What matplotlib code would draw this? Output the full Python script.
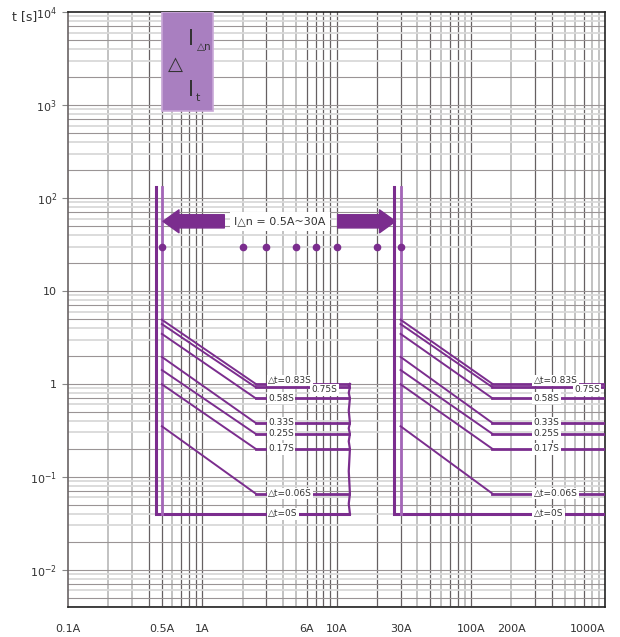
import numpy as np
import matplotlib.pyplot as plt
from matplotlib.patches import Rectangle

plt.rcParams['font.family'] = ['Liberation Sans Narrow', 'DejaVu Sans']
plt.rcParams['mathtext.fontset'] = 'custom'
plt.rcParams['mathtext.rm'] = 'Liberation Sans Narrow'
plt.rcParams['mathtext.default'] = 'regular'

# tripping curves
delay_labels = ["△t=0.83S", "0.75S", "0.58S", "0.33S", "0.25S", "0.17S", "△t=0.06S"]
t_at_start = [4.9, 4.4, 3.45, 1.95, 1.41, 0.99, 0.35]     # s at I = rated
t_plateau = [1.0, 0.92, 0.70, 0.38, 0.29, 0.20, 0.066]   # s after the knee
t_instant = 0.04
t_top = 130

rated = [0.5, 30]       # A, inner verticals
outer = [0.45, 27]      # A, outer verticals
knee = [2.5, 145]       # A
flat_end = [12.4, 1000] # A

dot_currents = [0.5, 2, 3, 5, 7, 10, 20, 30]
dot_time = 30

xtick_vals = [0.1, 0.5, 1, 6, 10, 30, 100, 200, 1000]
xtick_text = ["0.1A", "0.5A", "1A", "6A", "10A", "30A", "100A", "200A", "1000A"]
xtick_marked = [0.1, 1, 6, 10]
ytick_vals = [1e-2, 1e-1, 1, 10, 1e2, 1e3, 1e4]
ytick_text = [r"$10^{-2}$", r"$10^{-1}$", "1", "10", r"$10^2$", r"$10^3$", r"$10^4$"]

purple = '#7b2d8e'
purple_light = '#a466b8'
dark = '#666062'
light = '#bdbdbd'
mid_h = '#9a9495'
pale = '#d9d9d9'

fig = plt.figure(figsize=(6.2, 6.37), dpi=100)
ax = fig.add_axes([0.1097, 0.0471, 0.8661, 0.9341])
ax.set_xscale('log')
ax.set_yscale('log')
ax.set_xlim(0.1, 1000)
ax.set_ylim(10 ** -2.4, 1e4)

# grid
dark_v = {-1: [1, 4, 5, 7, 8, 9], 0: [1, 3, 6, 7, 8, 9], 1: [1, 2, 3, 5, 7, 8], 2: [1, 3, 4, 7]}
for dec in range(-1, 3):
    for m in range(1, 10):
        x = m * 10.0 ** dec
        if x <= 0.1:
            continue
        if m in dark_v[dec]:
            ax.axvline(x, color=dark, lw=0.9, zorder=1)
        else:
            ax.axvline(x, color=light, lw=1.3, zorder=1)
for dec in range(-3, 4):
    for m in range(1, 10):
        y = m * 10.0 ** dec
        if m in [1, 2, 5, 7]:
            ax.axhline(y, color=mid_h, lw=0.8, zorder=1)
        else:
            ax.axhline(y, color=pale, lw=1.3, zorder=1)

# curves
for g in range(2):
    ax.plot([outer[g], outer[g], flat_end[g]], [t_top, t_instant, t_instant],
            color=purple, lw=2.2, zorder=3, solid_joinstyle='miter')
    ax.plot([rated[g], rated[g]], [t_top, t_instant], color=purple_light, lw=2.0, zorder=3)
    for ts, tp in zip(t_at_start, t_plateau):
        ax.plot([rated[g], knee[g]], [ts, tp], color=purple, lw=1.4, zorder=3)
        ax.plot([knee[g], flat_end[g]], [tp, tp], color=purple, lw=2.0, zorder=3)

# bracket closing the left group
levels = sorted(t_plateau + [t_instant], reverse=True)
bx, by = [], []
for i, lv in enumerate(levels):
    bx.append(flat_end[0] * 1.015)
    by.append(lv)
    if i < len(levels) - 1:
        bx.append(flat_end[0] * 0.995)
        by.append(np.sqrt(lv * levels[i + 1]))
ax.plot(bx, by, color=purple, lw=1.6, zorder=3)

# delay labels
box = dict(facecolor='white', edgecolor='none', pad=1.0)
label_x = [[3.1, 6.5], [295, 590]]
for g in range(2):
    for i, lab in enumerate(delay_labels):
        if i == 1:
            ax.text(label_x[g][1], 0.86, lab, fontsize=6.5, color='#333333',
                    ha='left', va='center', bbox=box, zorder=5)
        else:
            ty = t_plateau[i] * (1.09 if i == 0 else 1.0)
            ax.text(label_x[g][0], ty, lab, fontsize=6.5, color='#333333',
                    ha='left', va='center', bbox=box, zorder=5)
    ax.text(label_x[g][0], t_instant, "△t=0S", fontsize=6.5, color='#333333',
            ha='left', va='center', bbox=box, zorder=5)

# dots and range arrows
ax.plot(dot_currents, [dot_time] * len(dot_currents), 'o', color=purple, ms=4.5, zorder=4)
arrow = dict(arrowstyle='simple,head_length=1.15,head_width=1.65,tail_width=0.95',
             color=purple, shrinkA=0, shrinkB=0)
ax.annotate('', xy=(0.51, 56), xytext=(1.46, 56), arrowprops=arrow, zorder=4)
ax.annotate('', xy=(27.5, 56), xytext=(10.2, 56), arrowprops=arrow, zorder=4)
ax.text(3.8, 56, "I△n = 0.5A~30A", fontsize=8, color='#333333', ha='center', va='center',
        bbox=dict(facecolor='white', edgecolor='none', pad=3), zorder=5)

# legend box
ax.add_patch(Rectangle((0.5, 860), 0.71, 1e4 - 860, facecolor='#a97fc0',
                       edgecolor='#c9a8d8', lw=1.2, zorder=4))
ax.text(0.83, 5100, "I", fontsize=15, color='#333333', ha='center', va='center', zorder=5)
ax.text(1.03, 4200, "△n", fontsize=7.5, color='#333333', ha='center', va='center', zorder=5)
ax.text(0.63, 2750, "△", fontsize=14, color='#333333', ha='center', va='center', zorder=5)
ax.text(0.82, 1450, "I", fontsize=15, color='#333333', ha='center', va='center', zorder=5)
ax.text(0.93, 1180, "t", fontsize=8, color='#333333', ha='center', va='center', zorder=5)

# axes
ax.set_xticks(xtick_vals)
ax.set_xticklabels(xtick_text)
ax.set_xticks(xtick_marked, minor=True)
ax.tick_params(axis='x', which='major', length=0, pad=12, labelsize=8, labelcolor='#333333')
ax.tick_params(axis='x', which='minor', length=7, width=0.8, color='#555555')
ax.get_xticklabels()[-1].set_horizontalalignment('right')
ax.set_yticks(ytick_vals)
ax.set_yticklabels(ytick_text)
ax.set_yticks([], minor=True)
ax.tick_params(axis='y', which='major', length=4, width=0.8, color='#888888', pad=4,
               labelsize=8, labelcolor='#333333')
for side in ['top', 'right', 'bottom']:
    ax.spines[side].set_color('#222222')
    ax.spines[side].set_linewidth(1.2)
ax.spines['left'].set_color('#6a6365')
ax.spines['left'].set_linewidth(1.2)

fig.text(37 / 620, 1 - 17 / 637, "t [s]", fontsize=9, color='#333333', ha='right', va='center')

fig.savefig('out.png', dpi=100)
